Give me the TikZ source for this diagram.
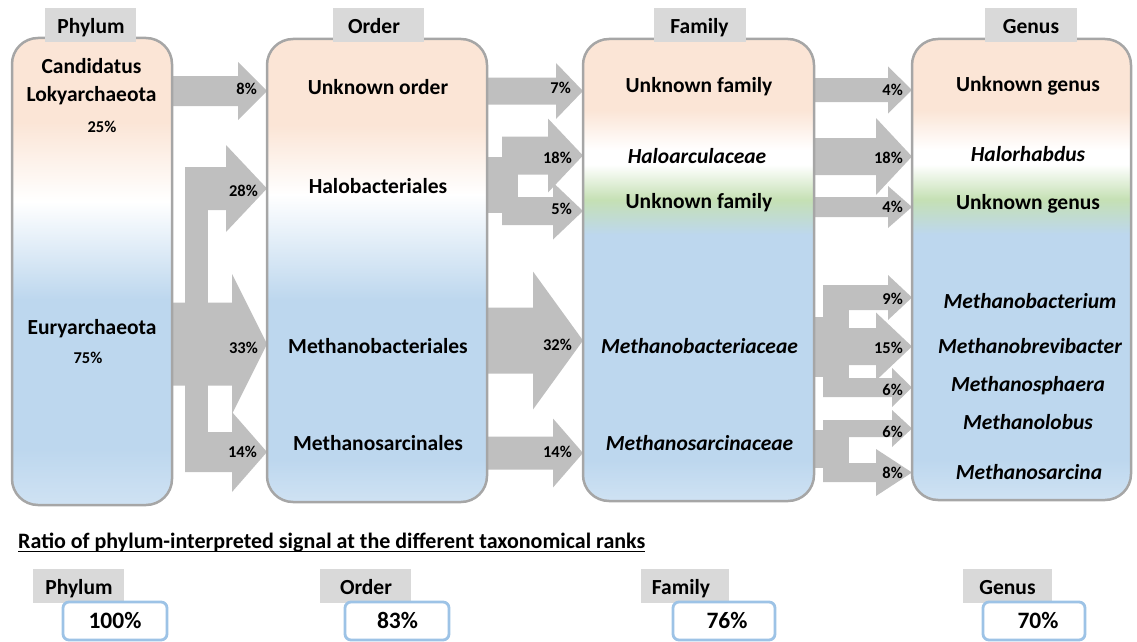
\documentclass[tikz,border=0pt]{standalone}
\usepackage{fontspec}
\setmainfont{Carlito}
\definecolor{peach}{HTML}{FBE5D6}
\definecolor{lblue}{HTML}{BDD7EE}
\definecolor{lblueb}{HTML}{CFE2F3}
\definecolor{lgreen}{HTML}{C5E0B4}
\definecolor{arrowgray}{HTML}{BFBFBF}
\definecolor{hdrgray}{HTML}{D9D9D9}
\definecolor{boxgray}{HTML}{A6A6A6}
\definecolor{valblue}{HTML}{9DC3E6}
\pgfdeclareverticalshading{phylumshade}{100bp}{color(0bp)=(lblueb); color(25bp)=(lblueb); color(31bp)=(lblue); color(47bp)=(lblue); color(57.5bp)=(white); color(66bp)=(peach); color(75bp)=(peach); color(100bp)=(peach)}
\pgfdeclareverticalshading{ordershade}{100bp}{color(0bp)=(lblueb); color(25bp)=(lblueb); color(29.6bp)=(lblue); color(46.8bp)=(lblue); color(58.2bp)=(white); color(65.7bp)=(peach); color(75bp)=(peach); color(100bp)=(peach)}
\pgfdeclareverticalshading{famshade}{100bp}{color(0bp)=(lblueb); color(25bp)=(lblueb); color(29.4bp)=(lblue); color(53.8bp)=(lblue); color(57.6bp)=(lgreen); color(61.4bp)=(white); color(63bp)=(white); color(67.3bp)=(peach); color(75bp)=(peach); color(100bp)=(peach)}
\newcommand{\blockarrow}[6]{% xs, xh, xt, yc, shaft half, head half
  \fill[arrowgray] (#1,#4-#5) -- (#2,#4-#5) -- (#2,#4-#6) -- (#3,#4) -- (#2,#4+#6) -- (#2,#4+#5) -- (#1,#4+#5) -- cycle;}
\begin{document}
\begin{tikzpicture}[x=1pt,y=-1pt,
  bigbox/.style={draw=boxgray, line width=2.5pt, rounded corners=26pt, shade, inner sep=0pt},
  hdr/.style={fill=hdrgray, draw=none, inner sep=0pt, minimum height=34pt},
  lbl/.style={font=\fontsize{21.5}{24}\selectfont\bfseries, text height=13.8pt, text depth=0pt, inner sep=0pt, anchor=center},
  ilbl/.style={lbl, font=\fontsize{21.5}{24}\selectfont\bfseries\itshape},
  pct/.style={font=\fontsize{16.5}{18}\selectfont\bfseries, text height=10.4pt, text depth=0pt, inner sep=0pt, anchor=east},
  pctc/.style={pct, anchor=center},
  valbox/.style={draw=valblue, line width=2.8pt, rounded corners=6pt, fill=white, inner sep=0pt, minimum height=38pt},
  val/.style={font=\fontsize{23.5}{26}\selectfont\bfseries, text height=14.8pt, text depth=0pt, inner sep=0pt},
]
\useasboundingbox (0,0) rectangle (1137,642);

% ---------- arrows: phylum -> order
\blockarrow{172}{238}{267}{91}{15}{29}
\fill[arrowgray] (185,167) rectangle (208,472);
\blockarrow{185}{226}{267}{188.5}{21.5}{43.5}
\blockarrow{172}{232}{267}{344}{41.5}{70}
\blockarrow{185}{232}{267}{452}{20}{40}

% ---------- arrows: order -> family
\blockarrow{486}{556}{583}{91}{13.5}{28}
\fill[arrowgray] (486,157) rectangle (502,213);
\fill[arrowgray] (502,137) rectangle (518,225);
\blockarrow{502}{548}{583}{155.5}{19}{37}
\blockarrow{502}{553}{583}{211}{14}{28.5}
\blockarrow{486}{533}{583}{340.5}{33}{69}
\blockarrow{486}{553}{583}{453}{16.5}{34.5}

% ---------- arrows: family -> genus
\blockarrow{814}{888}{912}{90}{12}{23.5}
\blockarrow{814}{876}{912}{156.5}{18.5}{38.5}
\blockarrow{814}{888}{912}{207}{10}{21}
\fill[arrowgray] (814,317) rectangle (823,377);
\fill[arrowgray] (823,285) rectangle (849,397);
\blockarrow{823}{888}{912}{297.5}{12.5}{22.5}
\blockarrow{849}{876}{912}{346.5}{18.5}{34}
\blockarrow{823}{892}{912}{387.5}{9.5}{19.5}
\fill[arrowgray] (814,430) rectangle (823,468);
\fill[arrowgray] (823,420) rectangle (849,482);
\blockarrow{823}{892}{912}{428.5}{8.5}{18.5}
\blockarrow{823}{876}{912}{472.5}{9.5}{23.5}

% ---------- big boxes
\node[bigbox, shading=phylumshade, minimum width=160pt, minimum height=467pt] (P) at (92,271.5) {};
\node[bigbox, shading=ordershade, minimum width=220pt, minimum height=463pt] (O) at (377,270.5) {};
\node[bigbox, shading=famshade, minimum width=231pt, minimum height=462pt] (F) at (698.5,270) {};
\node[bigbox, shading=famshade, minimum width=219pt, minimum height=461pt] (G) at (1021.5,269.5) {};

% ---------- top headers
\node[hdr, minimum width=91pt] (hP) at (90.5,25) {};
\node[hdr, minimum width=91pt] (hO) at (378.5,25) {};
\node[hdr, minimum width=92pt] (hF) at (700,25) {};
\node[hdr, minimum width=92pt] (hG) at (1031,25) {};
\node[lbl] (hPt) at (91,27) {Phylum};
\node[lbl] (hOt) at (374,27) {Order};
\node[lbl] (hFt) at (699.5,27) {Family};
\node[lbl] (hGt) at (1031,27) {Genus};

% ---------- phylum labels
\node[lbl] (p1) at (91.5,67) {Candidatus};
\node[lbl] (p2) at (91.5,95) {Lokyarchaeota};
\node[pctc] (p3) at (102,127) {25\%};
\node[lbl] (p4) at (92,328) {Euryarchaeota};
\node[pctc] (p5) at (88,358) {75\%};

% ---------- order labels
\node[lbl] (o1) at (378,88) {Unknown order};
\node[lbl] (o2) at (378,187) {Halobacteriales};
\node[lbl] (o3) at (378,347) {Methanobacteriales};
\node[lbl] (o4) at (378,444) {Methanosarcinales};

% ---------- family labels
\node[lbl] (f1) at (699,86) {Unknown family};
\node[ilbl] (f2) at (697,157) {Haloarculaceae};
\node[lbl] (f3) at (699,202) {Unknown family};
\node[ilbl] (f4) at (699.5,347) {Methanobacteriaceae};
\node[ilbl] (f5) at (699.5,444) {Methanosarcinaceae};

% ---------- genus labels
\node[lbl] (g1) at (1028,85) {Unknown genus};
\node[ilbl] (g2) at (1028,155) {Halorhabdus};
\node[lbl] (g3) at (1028,203) {Unknown genus};
\node[ilbl] (g4) at (1030,302) {Methanobacterium};
\node[ilbl] (g5) at (1030,347) {Methanobrevibacter};
\node[ilbl] (g6) at (1028,385) {Methanosphaera};
\node[ilbl] (g7) at (1028,423) {Methanolobus};
\node[ilbl] (g8) at (1029,473) {Methanosarcina};

% ---------- percentages on arrows
\node[pct] (a1) at (257,89) {8\%};
\node[pct] (a2) at (258,191) {28\%};
\node[pct] (a3) at (258,348) {33\%};
\node[pct] (a4) at (257,452) {14\%};
\node[pct] (b1) at (571,88) {7\%};
\node[pct] (b2) at (572,158) {18\%};
\node[pct] (b3) at (572,209) {5\%};
\node[pct] (b4) at (572,345) {32\%};
\node[pct] (b5) at (572,452) {14\%};
\node[pct] (c1) at (903,90) {4\%};
\node[pct] (c2) at (903,158) {18\%};
\node[pct] (c3) at (903,207) {4\%};
\node[pct] (c4) at (903,299) {9\%};
\node[pct] (c5) at (903,348) {15\%};
\node[pct] (c6) at (903,390) {6\%};
\node[pct] (c7) at (903,432) {6\%};
\node[pct] (c8) at (903,473) {8\%};

% ---------- bottom section
\node[anchor=base west, inner sep=0pt, font=\fontsize{22}{26}\selectfont\bfseries] (title) at (18,548) {Ratio of phylum-interpreted signal at the different taxonomical ranks};
\draw[line width=1.4pt] ([yshift=-3.5pt]title.base west) -- ([yshift=-3.5pt]title.base east);

\node[hdr, minimum width=91pt] (bhP) at (78.5,586) {};
\node[hdr, minimum width=91pt] (bhO) at (365.5,586) {};
\node[hdr, minimum width=88pt] (bhF) at (685,586) {};
\node[hdr, minimum width=89pt] (bhG) at (1007.5,586) {};
\node[lbl] (bhPt) at (79,588) {Phylum};
\node[lbl] (bhOt) at (366,588) {Order};
\node[lbl] (bhFt) at (681,588) {Family};
\node[lbl] (bhGt) at (1007.5,588) {Genus};

\node[valbox, minimum width=104pt] (vP) at (115,621) {};
\node[valbox, minimum width=104pt] (vO) at (397,621) {};
\node[valbox, minimum width=102pt] (vF) at (724,621) {};
\node[valbox, minimum width=102pt] (vG) at (1034,621) {};
\node[val] (vPt) at (115,621) {100\%};
\node[val] (vOt) at (397.5,621) {83\%};
\node[val] (vFt) at (727,621) {76\%};
\node[val] (vGt) at (1038,621) {70\%};
\end{tikzpicture}
\end{document}
